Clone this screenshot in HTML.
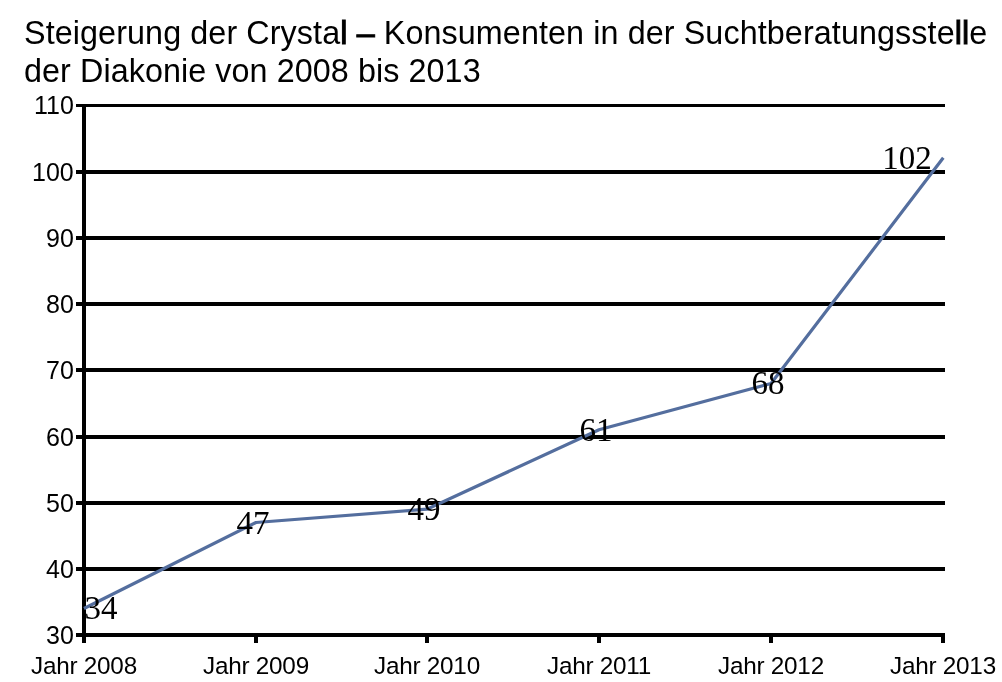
<!DOCTYPE html>
<html><head><meta charset="utf-8">
<style>
html,body{margin:0;padding:0;background:#fff;}
body{width:1002px;height:682px;position:relative;overflow:hidden;}
.t{position:absolute;left:24px;font-family:"Liberation Sans",sans-serif;font-size:32.3px;color:#000;white-space:nowrap;line-height:37px;}
.t b{font-weight:bold;}
.yl{position:absolute;right:928.5px;font-family:"Liberation Sans",sans-serif;font-size:25px;line-height:24px;color:#000;text-align:right;white-space:nowrap;}
.xl{position:absolute;width:140px;font-family:"Liberation Sans",sans-serif;font-size:24.3px;letter-spacing:-0.25px;line-height:26px;color:#000;text-align:center;white-space:nowrap;top:652.5px;}
.dl{position:absolute;width:80px;font-family:"Liberation Serif",serif;font-size:33px;line-height:34px;color:#000;text-align:center;white-space:nowrap;}
svg{position:absolute;left:0;top:0;}
.t,.yl,.xl,.dl{will-change:transform;}.fb{-webkit-text-stroke:1px #000;}</style></head><body>
<div class="t" style="top:15px;letter-spacing:0.1px">Steigerung der Crysta<span class="fb">l</span> <span class="fb">–</span> Konsumenten in der Suchtberatungsste<span class="fb">ll</span>e</div>
<div class="t" style="top:52.5px;letter-spacing:0.08px">der Diakonie von 2008 bis 2013</div>

<svg width="1002" height="682" viewBox="0 0 1002 682" shape-rendering="crispEdges">
<g fill="#000">
<rect x="76" y="104" width="869" height="3"/>
<rect x="76" y="170" width="869" height="4"/>
<rect x="76" y="236" width="869" height="4"/>
<rect x="76" y="302" width="869" height="4"/>
<rect x="76" y="368" width="869" height="4"/>
<rect x="76" y="435" width="869" height="4"/>
<rect x="76" y="501" width="869" height="4"/>
<rect x="76" y="567" width="869" height="4"/>
<rect x="76" y="633" width="869" height="4"/>
<rect x="82" y="104" width="4" height="539"/>
<rect x="254" y="633" width="4" height="10"/>
<rect x="425" y="633" width="4" height="10"/>
<rect x="597" y="633" width="4" height="10"/>
<rect x="769" y="633" width="4" height="10"/>
<rect x="941" y="633" width="4" height="10"/>
</g>
<polyline shape-rendering="geometricPrecision" points="84,608.5 256,522.5 427,509.2 599,429.8 771,383.5 943.3,157.8" fill="none" stroke="#546E9E" stroke-width="3.2" stroke-linejoin="round"/>
</svg>

<div class="yl" style="top:93px">110</div>
<div class="yl" style="top:159.7px">100</div>
<div class="yl" style="top:225.9px">90</div>
<div class="yl" style="top:292.1px">80</div>
<div class="yl" style="top:358.3px">70</div>
<div class="yl" style="top:424.5px">60</div>
<div class="yl" style="top:490.7px">50</div>
<div class="yl" style="top:556.8px">40</div>
<div class="yl" style="top:623px">30</div>

<div class="xl" style="left:14px">Jahr 2008</div>
<div class="xl" style="left:186px">Jahr 2009</div>
<div class="xl" style="left:357px">Jahr 2010</div>
<div class="xl" style="left:529px">Jahr 2011</div>
<div class="xl" style="left:701px">Jahr 2012</div>
<div class="xl" style="left:873px">Jahr 2013</div>

<div class="dl" style="left:61px;top:591px">34</div>
<div class="dl" style="left:212.5px;top:505.8px">47</div>
<div class="dl" style="left:384px;top:492px">49</div>
<div class="dl" style="left:556px;top:412.5px">61</div>
<div class="dl" style="left:728px;top:366px">68</div>
<div class="dl" style="left:867px;top:141px">102</div>
</body></html>
